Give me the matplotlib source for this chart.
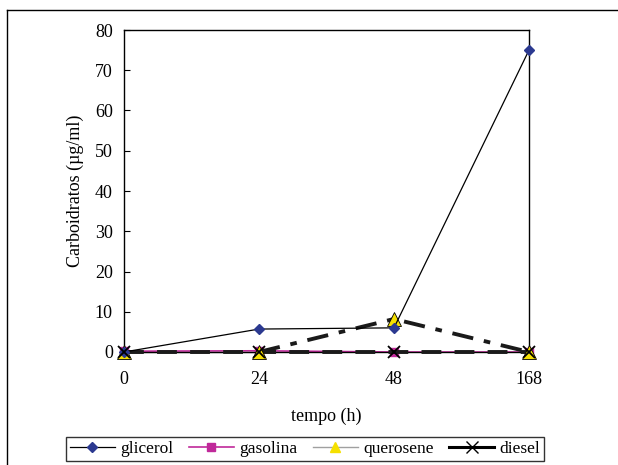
import matplotlib
matplotlib.use("Agg")
import matplotlib.pyplot as plt
from matplotlib.lines import Line2D

plt.rcParams['font.family'] = ['Liberation Serif', 'DejaVu Serif']

tempo = ["0", "24", "48", "168"]
glicerol = [0, 5.7, 6.0, 75]
gasolina = [0.2, 0.3, 0, 0]
querosene = [0, 0, 8.2, 0]
diesel = [0, 0, 0, 0]

W, H = 618, 465
fig = plt.figure(figsize=(W/100, H/100), dpi=100)
ax = fig.add_axes([124/W, 1-352/H, (529-124)/W, (352-30)/H])
x = list(range(len(tempo)))

ax.plot(x[:2], querosene[:2], color='#a0a0a0', lw=1.0, zorder=1, clip_on=False)
ax.plot(x, gasolina, color='#c0299a', lw=1.2, marker='s', ms=6,
        mfc='#c0299a', mec='#c0299a', zorder=2, clip_on=False)
ax.plot(x, diesel, color='#1a1a1a', lw=2.8, ls=(0, (5.1, 3.4)), zorder=3, clip_on=False)
ax.plot(x[1:], querosene[1:], color='#1a1a1a', lw=2.8, ls=(0, (5.5, 2.8, 1.7, 2.8)),
        zorder=4, clip_on=False)
ax.plot(x, querosene, color='none', marker='^', ms=10,
        mfc='#f5e000', mec='black', mew=0.6, zorder=5, clip_on=False)
ax.plot(x, glicerol, color='black', lw=0.9, marker='D', ms=5,
        mfc='#2b3990', mec='#2b3990', zorder=6, clip_on=False)
ax.plot(x, diesel, color='none', marker='x', ms=9, mew=1.3, mec='black', zorder=7,
        clip_on=False)

ax.set_xlim(0, 3)
ax.set_ylim(0, 80)
ax.set_yticks(range(0, 81, 10))
ax.set_xticks(x)
ax.set_xticklabels(tempo)
ax.tick_params(axis='y', direction='in', length=4, labelsize=13, pad=8)
ax.tick_params(axis='x', length=0, labelsize=13, pad=14)
for s in ax.spines.values():
    s.set_linewidth(1.0)
ax.set_ylabel('Carboidratos (µg/ml)', fontsize=13, labelpad=8)
ax.set_xlabel('tempo (h)', fontsize=13, labelpad=14)

handles = [
    Line2D([], [], color='black', lw=0.9, marker='D', ms=5, mfc='#2b3990', mec='#2b3990'),
    Line2D([], [], color='#c0299a', lw=1.2, marker='s', ms=6, mfc='#c0299a', mec='#c0299a'),
    Line2D([], [], color='#a0a0a0', lw=1.0, marker='^', ms=7, mfc='#f5e000', mec='#f5e000'),
    Line2D([], [], color='black', lw=2.2, marker='x', ms=8, mew=1.0, mec='black'),
]
leg = fig.legend(handles, ['glicerol', 'gasolina', 'querosene', 'diesel'],
                 loc='center', bbox_to_anchor=(305/W, 1-449/H), ncol=4,
                 fontsize=12.5, frameon=True, fancybox=False, edgecolor='black',
                 handlelength=2.6, handletextpad=0.3, columnspacing=0.9,
                 borderpad=0.2, borderaxespad=0)
leg.get_frame().set_linewidth(1.0)

fig.add_artist(Line2D([7/W, 7/W], [0, 1-10/H], color='black', lw=1.0))
fig.add_artist(Line2D([7/W, 1], [1-10/H, 1-10/H], color='black', lw=1.0))

fig.savefig('out.png', dpi=100)
